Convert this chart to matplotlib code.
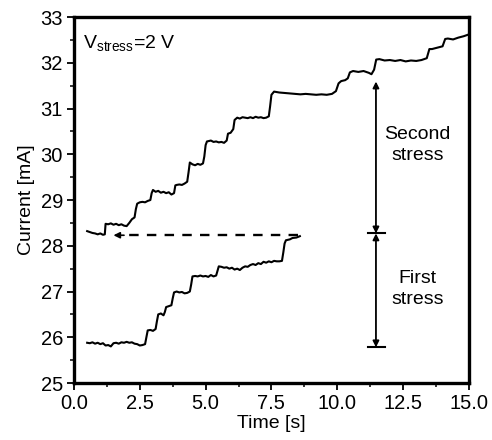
import matplotlib
matplotlib.use("Agg")
import matplotlib.pyplot as plt

plt.rcParams['font.family'] = ['Liberation Sans', 'DejaVu Sans']

# first stress trace (lower curve)
t_first = [0.5, 0.6, 0.7, 0.8, 0.9, 1.0, 1.1, 1.2, 1.3, 1.4, 1.5, 1.6, 1.7, 1.8, 1.9, 2.0,
           2.1, 2.2, 2.3, 2.4, 2.5, 2.6, 2.7, 2.75, 2.8, 2.9, 3.0, 3.1, 3.15, 3.2, 3.3, 3.4,
           3.45, 3.5, 3.6, 3.7, 3.75, 3.8, 3.9, 4.0, 4.1, 4.2, 4.3, 4.4, 4.45, 4.5, 4.6, 4.7,
           4.8, 4.9, 5.0, 5.1, 5.2, 5.3, 5.4, 5.45, 5.5, 5.6, 5.7, 5.8, 5.9, 6.0, 6.1, 6.2,
           6.3, 6.4, 6.5, 6.6, 6.7, 6.8, 6.9, 7.0, 7.1, 7.2, 7.3, 7.4, 7.5, 7.6, 7.7, 7.8,
           7.9, 7.95, 8.0, 8.05, 8.2, 8.3, 8.45, 8.58]
i_first = [25.88, 25.87, 25.89, 25.86, 25.88, 25.85, 25.87, 25.82, 25.83, 25.80, 25.87, 25.88,
           25.86, 25.89, 25.88, 25.90, 25.88, 25.89, 25.86, 25.85, 25.82, 25.83, 25.85, 26.00,
           26.15, 26.16, 26.14, 26.18, 26.35, 26.50, 26.52, 26.48, 26.55, 26.66, 26.68, 26.70,
           26.85, 26.98, 27.00, 26.98, 26.99, 26.96, 26.97, 27.00, 27.15, 27.33, 27.34, 27.33,
           27.35, 27.33, 27.34, 27.32, 27.36, 27.33, 27.35, 27.45, 27.55, 27.54, 27.52, 27.53,
           27.50, 27.52, 27.48, 27.50, 27.47, 27.52, 27.55, 27.54, 27.58, 27.60, 27.58, 27.62,
           27.60, 27.65, 27.63, 27.66, 27.64, 27.67, 27.66, 27.66, 27.67, 27.85, 28.05, 28.12,
           28.14, 28.17, 28.18, 28.21]

# second stress trace (upper curve)
t_second = [0.5, 0.6, 0.7, 0.8, 0.9, 1.0, 1.1, 1.17, 1.2, 1.3, 1.4, 1.5, 1.6, 1.7, 1.8, 1.9,
            2.0, 2.1, 2.2, 2.3, 2.35, 2.4, 2.5, 2.6, 2.7, 2.8, 2.9, 2.95, 3.0, 3.1, 3.2, 3.3,
            3.4, 3.5, 3.6, 3.7, 3.8, 3.85, 3.9, 4.0, 4.1, 4.2, 4.3, 4.35, 4.4, 4.5, 4.6, 4.7,
            4.8, 4.9, 4.95, 5.0, 5.05, 5.2, 5.3, 5.4, 5.5, 5.6, 5.7, 5.8, 5.85, 5.95, 6.05, 6.1,
            6.2, 6.3, 6.4, 6.5, 6.6, 6.7, 6.8, 6.9, 7.0, 7.1, 7.2, 7.3, 7.4, 7.45, 7.5, 7.6,
            7.7, 7.8, 8.0, 8.2, 8.4, 8.6, 8.8, 9.0, 9.2, 9.4, 9.6, 9.8, 9.95, 10.05, 10.15,
            10.3, 10.4, 10.48, 10.6, 10.8, 11.0, 11.2, 11.3, 11.4, 11.48, 11.6, 11.8, 12.0,
            12.2, 12.4, 12.6, 12.8, 13.0, 13.2, 13.4, 13.5, 13.6, 13.8, 14.0, 14.1, 14.2, 14.4,
            14.6, 14.8, 15.0]
i_second = [28.32, 28.30, 28.28, 28.27, 28.25, 28.27, 28.24, 28.25, 28.48, 28.47, 28.49, 28.46,
            28.48, 28.45, 28.47, 28.44, 28.43, 28.50, 28.58, 28.62, 28.80, 28.92, 28.95, 28.96,
            28.95, 28.98, 29.00, 29.15, 29.22, 29.18, 29.20, 29.16, 29.18, 29.15, 29.17, 29.12,
            29.15, 29.32, 29.33, 29.34, 29.33, 29.36, 29.40, 29.60, 29.82, 29.78, 29.76, 29.79,
            29.77, 29.80, 29.95, 30.20, 30.28, 30.30, 30.27, 30.28, 30.26, 30.27, 30.25, 30.30,
            30.45, 30.47, 30.55, 30.75, 30.80, 30.78, 30.81, 30.80, 30.79, 30.81, 30.79, 30.82,
            30.80, 30.81, 30.79, 30.80, 30.83, 31.05, 31.30, 31.37, 31.36, 31.35, 31.34, 31.33,
            31.32, 31.31, 31.32, 31.31, 31.30, 31.31, 31.30, 31.32, 31.38, 31.55, 31.60, 31.62,
            31.66, 31.79, 31.82, 31.80, 31.82, 31.78, 31.75, 31.85, 32.07, 32.08, 32.05, 32.06,
            32.04, 32.06, 32.03, 32.05, 32.04, 32.06, 32.10, 32.30, 32.30, 32.33, 32.36, 32.52,
            32.53, 32.51, 32.55, 32.58, 32.62]

x_ticks = [0.0, 2.5, 5.0, 7.5, 10.0, 12.5, 15.0]
x_tick_labels = ["0.0", "2.5", "5.0", "7.5", "10.0", "12.5", "15.0"]
y_ticks = [25, 26, 27, 28, 29, 30, 31, 32, 33]

# annotation positions (data units)
arrow_x = 11.47
level_start = 25.78
level_mid = 28.27
level_top = 31.59
dash_y = 28.23
dash_from = 8.5
dash_to = 1.5

fig = plt.figure(figsize=(4.92, 4.4), dpi=100)
ax = fig.add_axes([0.1504, 0.1295, 0.8026, 0.8318])

ax.plot(t_first, i_first, color='black', lw=1.5)
ax.plot(t_second, i_second, color='black', lw=1.5)

# dashed arrow from end of first stress back to start of second
ax.plot([dash_from, dash_to + 0.25], [dash_y, dash_y], color='black', lw=1.7,
        dashes=(4, 3.5))
ax.annotate('', xy=(dash_to, dash_y), xytext=(dash_to + 0.4, dash_y),
            arrowprops=dict(arrowstyle='-|>', color='black', lw=1.2,
                            mutation_scale=9, shrinkA=0, shrinkB=0))

# double arrows
for lo, hi in [(level_mid, level_top), (level_start, level_mid)]:
    ax.annotate('', xy=(arrow_x, hi), xytext=(arrow_x, lo),
                arrowprops=dict(arrowstyle='<|-|>', color='black', lw=1.3,
                                mutation_scale=9, shrinkA=0, shrinkB=0))
for lev in [level_start, level_mid]:
    ax.plot([arrow_x - 0.3, arrow_x + 0.33], [lev, lev], color='black', lw=1.5)

ax.text(13.05, 30.2, "Second\nstress", ha='center', va='center', fontsize=14,
        linespacing=1.3)
ax.text(13.05, 27.05, "First\nstress", ha='center', va='center', fontsize=14,
        linespacing=1.3)
ax.text(0.35, 32.42, r"V$_{\mathregular{stress}}$=2 V", ha='left', va='center',
        fontsize=14)

ax.set_xlim(0, 15)
ax.set_ylim(25, 33)
ax.set_xticks(x_ticks)
ax.set_xticklabels(x_tick_labels)
ax.set_yticks(y_ticks)
ax.set_xticks([1.25, 3.75, 6.25, 8.75, 11.25, 13.75], minor=True)
ax.set_yticks([25.5 + k for k in range(8)], minor=True)
ax.tick_params(which='major', direction='out', length=5, width=1.3, labelsize=14.5)
ax.tick_params(axis='x', which='major', pad=3)
ax.tick_params(axis='y', which='major', pad=3)
ax.tick_params(which='minor', direction='out', length=3, width=1.1)
for sp in ax.spines.values():
    sp.set_linewidth(2.4)

ax.set_xlabel("Time [s]", fontsize=14, labelpad=1)
ax.set_ylabel("Current [mA]", fontsize=14, labelpad=4)

fig.savefig("out.png", dpi=100)
